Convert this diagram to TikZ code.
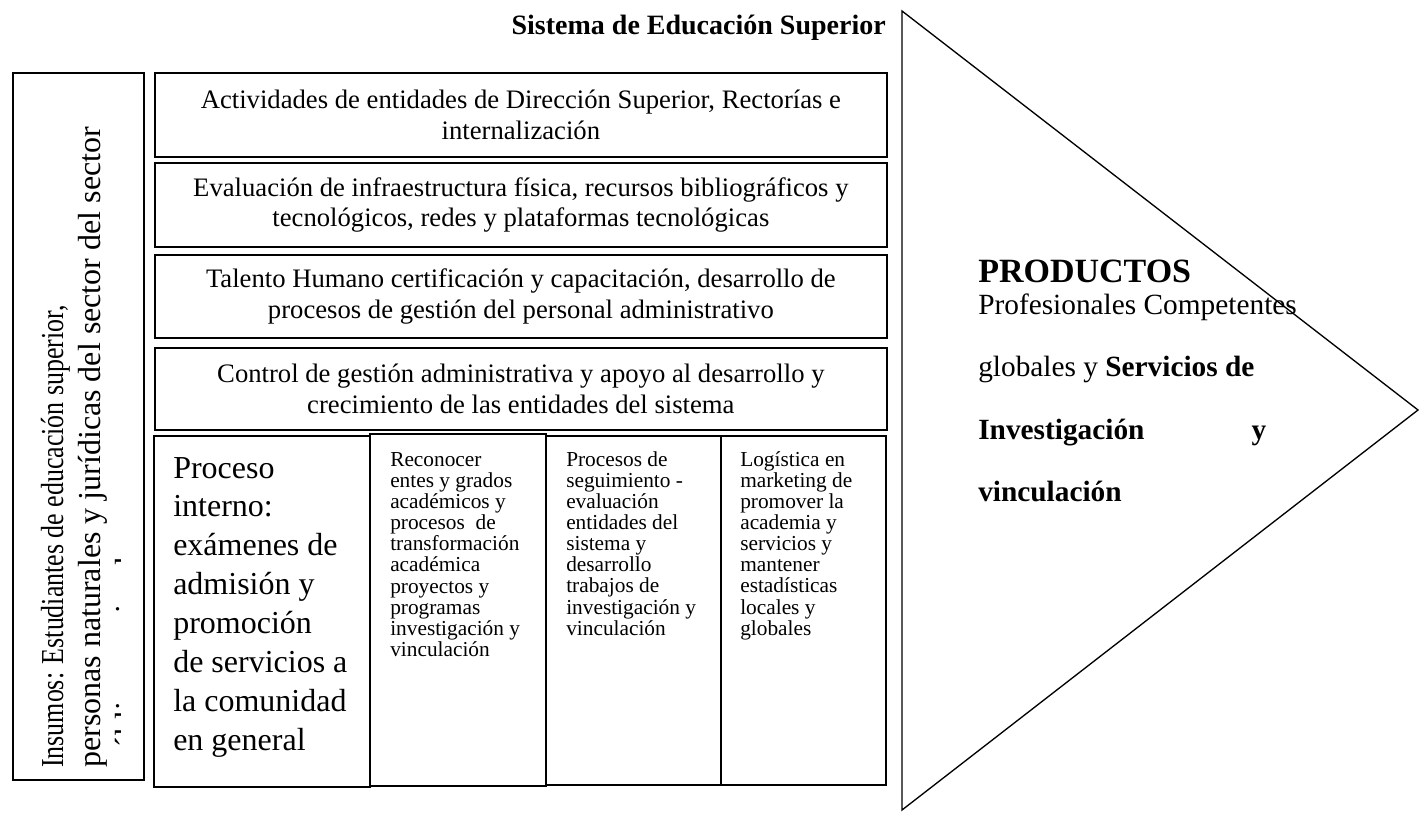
\documentclass[tikz,border=0pt]{standalone}
\usepackage{fontspec}
\setmainfont{Liberation Serif}
\usepackage{tikz}

\newcommand{\colrows}[1]{\begin{tabular}[t]{@{}l@{}}#1\end{tabular}}

\tikzset{
  boxline/.style={draw, line width=1.3pt},
  topbox/.style={boxline, anchor=north west, inner sep=0pt, minimum width=549pt,
    align=center, font=\fontsize{20}{23}\selectfont},
  colbox/.style={boxline, anchor=north west, inner sep=0pt},
  coltext/.style={anchor=base west, inner sep=0pt, font=\fontsize{16}{15.85}\selectfont},
  bigtext/.style={anchor=base west, inner sep=0pt, font=\fontsize{24}{29.2}\selectfont},
  sidetext/.style={anchor=base west, inner sep=0pt, rotate=90, font=\fontsize{24}{27.75}\selectfont},
  prodtext/.style={anchor=base west, inner sep=0pt, font=\fontsize{22}{46.5}\selectfont},
}

\begin{document}
\begin{tikzpicture}[x=0.75pt,y=0.75pt,yscale=-1,xscale=1]
\useasboundingbox (0,0) rectangle (1419,816);

%Title
\node[anchor=base east, inner sep=0pt, font=\bfseries\fontsize{21}{24}\selectfont] (title) at (886,35) {Sistema de Educación Superior};

%Triangle: productos
\draw[line width=1pt] (902,11) -- (1418,410) -- (902,810) -- cycle;
\node[anchor=base west, inner sep=0pt, font=\bfseries\fontsize{25.5}{28}\selectfont] (prod) at (978,283) {PRODUCTOS};
\node[prodtext] (prodt) at (978,315) {\colrows{Profesionales Competentes\\
  globales y \textbf{Servicios de}\\
  \makebox[216pt][s]{\textbf{Investigación y}}\\
  \textbf{vinculación}}};

%Insumos box
\node[colbox, minimum width=98.25pt, minimum height=530.25pt] (ins) at (12,72) {};
\begin{scope}
\clip (12,72) rectangle (120,779);
\node[sidetext, xscale=0.81] (ins1) at (63,768) {Insumos: Estudiantes de educación superior,};
\node[sidetext] (ins2) at (100,768) {personas naturales y jurídicas del sector del sector};
\node[sidetext] (ins3) at (137,768) {público y privado};
\end{scope}

%Top boxes
\node[topbox, minimum height=63pt] (act) at (154,72) {Actividades de entidades de Dirección Superior, Rectorías e\\ internalización};
\node[topbox, minimum height=63pt] (eva) at (154,162) {Evaluación de infraestructura física, recursos bibliográficos y\\ tecnológicos, redes y plataformas tecnológicas};
\node[topbox, minimum height=62.25pt] (tal) at (154,254) {Talento Humano certificación y capacitación, desarrollo de\\ procesos de gestión del personal administrativo};
\node[topbox, minimum height=61.5pt] (con) at (154,347) {Control de gestión administrativa y apoyo al desarrollo y\\ crecimiento de las entidades del sistema};

%Bottom columns
\node[colbox, minimum width=162pt, minimum height=263.25pt] (proc) at (153,435) {};
\node[colbox, minimum width=132pt, minimum height=264pt] (reco) at (369,433) {};
\node[colbox, minimum width=131.25pt, minimum height=261.75pt] (segu) at (545,435) {};
\node[colbox, minimum width=123.75pt, minimum height=261.75pt] (logi) at (720,435) {};

\node[bigtext] (proct) at (173,478) {\colrows{Proceso\\ interno:\\ exámenes de\\ admisión y\\ promoción\\ de servicios a\\ la comunidad\\ en general}};
\node[coltext] (recot) at (390,466) {\colrows{Reconocer\\ entes y grados\\ académicos y\\ procesos\ \ de\\ transformación\\ académica\\ proyectos y\\ programas\\ investigación y\\ vinculación}};
\node[coltext] (segut) at (566,466) {\colrows{Procesos de\\ seguimiento -\\ evaluación\\ entidades del\\ sistema y\\ desarrollo\\ trabajos de\\ investigación y\\ vinculación}};
\node[coltext] (logit) at (740,466) {\colrows{Logística en\\ marketing de\\ promover la\\ academia y\\ servicios y\\ mantener\\ estadísticas\\ locales y\\ globales}};
\end{tikzpicture}
\end{document}
